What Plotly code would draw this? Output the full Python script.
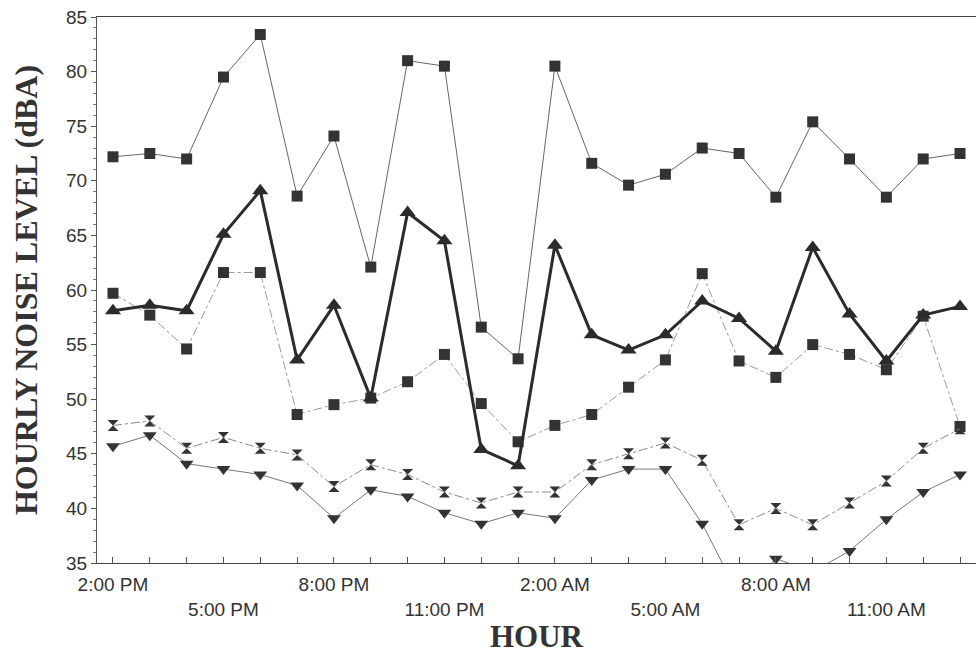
import plotly.graph_objects as go

# ---- data ----
hours = ["2:00 PM", "3:00 PM", "4:00 PM", "5:00 PM", "6:00 PM", "7:00 PM",
         "8:00 PM", "9:00 PM", "10:00 PM", "11:00 PM", "12:00 AM", "1:00 AM",
         "2:00 AM", "3:00 AM", "4:00 AM", "5:00 AM", "6:00 AM", "7:00 AM",
         "8:00 AM", "9:00 AM", "10:00 AM", "11:00 AM", "12:00 PM", "1:00 PM"]
upper_labels = ["2:00 PM", "8:00 PM", "2:00 AM", "8:00 AM"]
lower_labels = ["5:00 PM", "11:00 PM", "5:00 AM", "11:00 AM"]

l_max = [72.2, 72.5, 72.0, 79.5, 83.4, 68.6, 74.1, 62.1, 81.0, 80.5, 56.6, 53.7,
         80.5, 71.6, 69.6, 70.6, 73.0, 72.5, 68.5, 75.4, 72.0, 68.5, 72.0, 72.5]
l_10 = [59.7, 57.7, 54.6, 61.6, 61.6, 48.6, 49.5, 50.1, 51.6, 54.1, 49.6, 46.1,
        47.6, 48.6, 51.1, 53.6, 61.5, 53.5, 52.0, 55.0, 54.1, 52.7, 57.6, 47.5]
l_eq = [58.1, 58.6, 58.1, 65.1, 69.1, 53.6, 58.6, 50.1, 67.1, 64.5, 45.4, 43.9,
        64.1, 55.9, 54.5, 55.9, 59.0, 57.4, 54.4, 63.9, 57.8, 53.5, 57.7, 58.5]
l_90 = [47.6, 48.0, 45.5, 46.5, 45.5, 44.9, 42.0, 44.0, 43.1, 41.5, 40.5, 41.5,
        41.5, 44.0, 45.0, 46.0, 44.4, 38.5, 40.0, 38.5, 40.5, 42.5, 45.5, 47.3]
l_min = [45.7, 46.7, 44.1, 43.6, 43.1, 42.1, 39.1, 41.7, 41.1, 39.6, 38.6, 39.6,
         39.1, 42.6, 43.6, 43.6, 38.6, 32.0, 35.4, 34.2, 36.1, 39.0, 41.5, 43.1]

tick_text = [h if h in upper_labels else ("<br>" + h if h in lower_labels else "")
             for h in hours]

fig = go.Figure()

def add(y, symbol, size, lw, lcolor, dash, mcolor="#333333", name=""):
    fig.add_trace(go.Scatter(
        x=hours, y=y, mode="lines+markers", name=name,
        line=dict(color=lcolor, width=lw, dash=dash),
        marker=dict(symbol=symbol, size=size, color=mcolor,
                    line=dict(width=0))))

add(l_10, "square", 11, 1, "#9a9a9a", "dashdot", name="L10")
add(l_90, "hourglass", 11, 1, "#8a8a8a", "dashdot", name="L90")
add(l_min, "triangle-down", 12, 1, "#777777", "solid", name="Lmin")
add(l_max, "square", 11, 1, "#666666", "solid", name="Lmax")
add(l_eq, "triangle-up", 14, 3, "#2b2b2b", "solid", mcolor="#2b2b2b", name="Leq")

fig.update_layout(
    width=976, height=658,
    margin=dict(l=97, r=0, t=17, b=95),
    plot_bgcolor="white", paper_bgcolor="white",
    showlegend=False,
    font=dict(family="Liberation Sans", color="#333333"),
)
fig.update_xaxes(
    type="category",
    range=[-0.434, 23.434],
    tickmode="array", tickvals=hours, ticktext=tick_text,
    ticks="inside", ticklen=6, tickcolor="#555555", tickwidth=1,
    ticklabelstandoff=4,
    showline=True, mirror=True, linecolor="#444444", linewidth=1,
    showgrid=False, zeroline=False, tickangle=0,
    tickfont=dict(family="Liberation Sans", size=19, color="#333333"),
    title=dict(text="<b>HOUR</b>", standoff=6,
               font=dict(family="Liberation Serif", size=31, color="#333333")),
)
fig.update_yaxes(
    range=[35, 85], tickmode="linear", tick0=35, dtick=5,
    ticks="outside", ticklen=5, tickcolor="#555555",
    minor=dict(ticks="outside", ticklen=3, dtick=1, tickcolor="#777777"),
    showline=True, linecolor="#555555", linewidth=1,
    showgrid=False, zeroline=False,
    tickfont=dict(family="Liberation Sans", size=19, color="#333333"),
    title=dict(text="<b>HOURLY NOISE LEVEL (dBA)</b>", standoff=18,
               font=dict(family="Liberation Serif", size=32, color="#333333")),
)

fig.write_html("out.html")
